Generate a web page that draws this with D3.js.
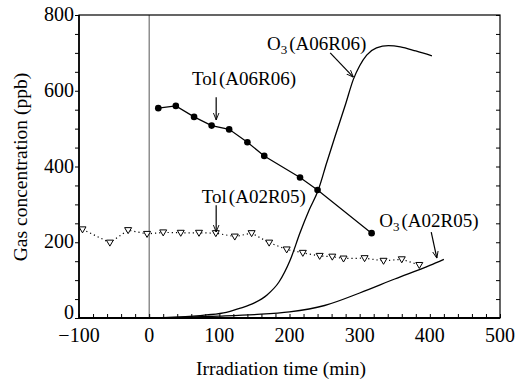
<!DOCTYPE html>
<html>
<head>
<meta charset="utf-8">
<script src="https://cdn.jsdelivr.net/npm/d3@7"></script>
<style>
  body { margin: 0; background: #fff; }
  svg { display: block; }
  text { font-family: "Liberation Serif", "Times New Roman", serif; fill: #000; }
</style>
</head>
<body>
<svg id="chart" width="522" height="382"></svg>
<script>
// toluene decay, filled circles (run A06R06)
const tolA06 = [
  [13, 554], [38, 560], [64, 531], [89, 508], [114, 498],
  [140, 464], [164, 428], [215, 371], [240, 338], [317, 224]
];

// toluene, open triangles (run A02R05), dark period starts at -100
const tolA02 = [
  [-95, 234], [-56, 199], [-30, 232], [-3, 222], [20, 226], [45, 225],
  [71, 225], [95, 224], [122, 215], [146, 224], [171, 199], [196, 181],
  [219, 172], [243, 164], [261, 162], [277, 157], [307, 158], [334, 151],
  [360, 155], [385, 140]
];

// ozone formation curves
const o3A06 = [
  [0, 0], [40, 2], [82, 8], [110, 15], [130, 26], [150, 40], [168, 61],
  [185, 95], [201, 153], [215, 225], [228, 285], [241, 338], [253, 410],
  [265, 480], [280, 565], [291, 630], [300, 666], [310, 694], [324, 713],
  [341, 719], [358, 716], [380, 705], [403, 692]
];

const o3A02 = [
  [0, 0], [50, 2], [100, 5], [150, 9], [200, 16], [250, 33],
  [300, 66], [350, 103], [400, 139], [420, 155]
];

const xTicks = [-100, 0, 100, 200, 300, 400, 500];
const yTicks = [0, 200, 400, 600, 800];

const svg = d3.select("#chart");

const x = d3.scaleLinear().domain([-100, 500]).range([79, 500]);
const y = d3.scaleLinear().domain([0, 800]).range([318, 15]);

// arrowhead for the labels
svg.append("defs").append("marker")
   .attr("id", "arrow")
   .attr("viewBox", "0 0 10 10")
   .attr("refX", 10)
   .attr("refY", 5)
   .attr("markerWidth", 7)
   .attr("markerHeight", 7)
   .attr("markerUnits", "userSpaceOnUse")
   .attr("orient", "auto")
   .append("path")
   .attr("d", "M0,1 L10,5 L0,9")
   .attr("fill", "none")
   .attr("stroke", "#000")
   .attr("stroke-width", 1.3);

// start of irradiation
svg.append("line")
   .attr("x1", x(0)).attr("x2", x(0))
   .attr("y1", y(800)).attr("y2", y(0))
   .attr("stroke", "#555")
   .attr("stroke-width", 1);

// axes
const xAxis = d3.axisBottom(x)
                .tickValues(d3.range(-100, 501, 20))
                .tickSize(-4)
                .tickFormat("");
svg.append("g")
   .attr("transform", "translate(0," + y(0) + ")")
   .call(xAxis)
   .call(g => g.select(".domain").remove());

const yAxis = d3.axisLeft(y)
                .tickValues(d3.range(0, 801, 50))
                .tickSize(4)
                .tickFormat("");
svg.append("g")
   .attr("transform", "translate(" + x(-100) + ",0)")
   .call(yAxis)
   .call(g => g.select(".domain").remove());

const yAxisRight = d3.axisLeft(y)
                     .tickValues(d3.range(0, 801, 50))
                     .tickSize(4)
                     .tickFormat("");
svg.append("g")
   .attr("transform", "translate(" + x(500) + ",0)")
   .call(yAxisRight)
   .call(g => g.select(".domain").remove());

svg.selectAll(".tick line").attr("stroke", "#000").attr("stroke-width", 1);

// frame
svg.append("rect")
   .attr("x", x(-100))
   .attr("y", y(800))
   .attr("width", x(500) - x(-100))
   .attr("height", y(0) - y(800))
   .attr("fill", "none")
   .attr("stroke", "#000")
   .attr("stroke-width", 1.2);
svg.append("line")
   .attr("x1", x(-100)).attr("x2", x(500))
   .attr("y1", y(0)).attr("y2", y(0))
   .attr("stroke", "#000")
   .attr("stroke-width", 2);
svg.append("line")
   .attr("x1", x(-100)).attr("x2", x(-100))
   .attr("y1", y(0)).attr("y2", y(800))
   .attr("stroke", "#000")
   .attr("stroke-width", 1.6);

// tick labels
svg.selectAll(".xlab")
   .data(xTicks)
   .enter().append("text")
   .attr("class", "xlab")
   .attr("x", d => x(d))
   .attr("y", 342)
   .attr("text-anchor", "middle")
   .style("font-size", "20px")
   .text(d => d < 0 ? "\u2212" + Math.abs(d) : d);

svg.selectAll(".ylab")
   .data(yTicks)
   .enter().append("text")
   .attr("class", "ylab")
   .attr("x", 74)
   .attr("y", d => y(d) + (d === 0 ? 1 : 6))
   .attr("text-anchor", "end")
   .style("font-size", "20px")
   .text(d => d);

// axis titles
svg.append("text")
   .attr("x", 281)
   .attr("y", 375)
   .attr("text-anchor", "middle")
   .style("font-size", "19.5px")
   .text("Irradiation time (min)");

svg.append("text")
   .attr("transform", "translate(27,167) rotate(-90)")
   .attr("text-anchor", "middle")
   .style("font-size", "19.5px")
   .text("Gas concentration (ppb)");

// curves
const line = d3.line().x(d => x(d[0])).y(d => y(d[1]));
const smooth = d3.line().x(d => x(d[0])).y(d => y(d[1])).curve(d3.curveMonotoneX);

svg.append("path")
   .datum(o3A06)
   .attr("d", smooth)
   .attr("fill", "none")
   .attr("stroke", "#000")
   .attr("stroke-width", 1.3);

svg.append("path")
   .datum(o3A02)
   .attr("d", smooth)
   .attr("fill", "none")
   .attr("stroke", "#000")
   .attr("stroke-width", 1.3);

svg.append("path")
   .datum(tolA02)
   .attr("d", line)
   .attr("fill", "none")
   .attr("stroke", "#000")
   .attr("stroke-width", 1.2)
   .attr("stroke-dasharray", "1.2,3");

svg.append("path")
   .datum(tolA06)
   .attr("d", line)
   .attr("fill", "none")
   .attr("stroke", "#000")
   .attr("stroke-width", 1.2);

svg.selectAll(".tri")
   .data(tolA02)
   .enter().append("path")
   .attr("class", "tri")
   .attr("transform", d => "translate(" + x(d[0]) + "," + y(d[1]) + ")")
   .attr("d", "M-3.5,-2.5 L3.5,-2.5 L0,3.5 Z")
   .attr("fill", "#fff")
   .attr("stroke", "#000")
   .attr("stroke-width", 1);

svg.selectAll(".dot")
   .data(tolA06)
   .enter().append("circle")
   .attr("class", "dot")
   .attr("cx", d => x(d[0]))
   .attr("cy", d => y(d[1]))
   .attr("r", 3.3)
   .attr("fill", "#000");

// labels with arrows
const labels = [
  {name: "Tol", run: "(A06R06)", at: [61, 615], from: [95.5, 583], to: [95.5, 523]},
  {name: "O", sub: "3", run: "(A06R06)", at: [168, 707], from: [258, 700], to: [291, 636]},
  {name: "Tol", run: "(A02R05)", at: [75, 304], from: [95.5, 298], to: [95.5, 227]},
  {name: "O", sub: "3", run: "(A02R05)", at: [328, 240], from: [402, 227], to: [410, 158]}
];

labels.forEach(l => {
  let t = svg.append("text")
             .attr("x", x(l.at[0]))
             .attr("y", y(l.at[1]))
             .style("font-size", "19px");
  t.append("tspan").text(l.name);
  if (l.sub) {
    t.append("tspan").attr("dy", 4).style("font-size", "13px").text(l.sub);
    t.append("tspan").attr("dy", -4).attr("dx", 2).text(l.run);
  } else {
    t.append("tspan").attr("dx", 2).text(l.run);
  }

  svg.append("line")
     .attr("x1", x(l.from[0])).attr("y1", y(l.from[1]))
     .attr("x2", x(l.to[0])).attr("y2", y(l.to[1]))
     .attr("stroke", "#000")
     .attr("stroke-width", 1.2)
     .attr("marker-end", "url(#arrow)");
});
</script>
</body>
</html>
